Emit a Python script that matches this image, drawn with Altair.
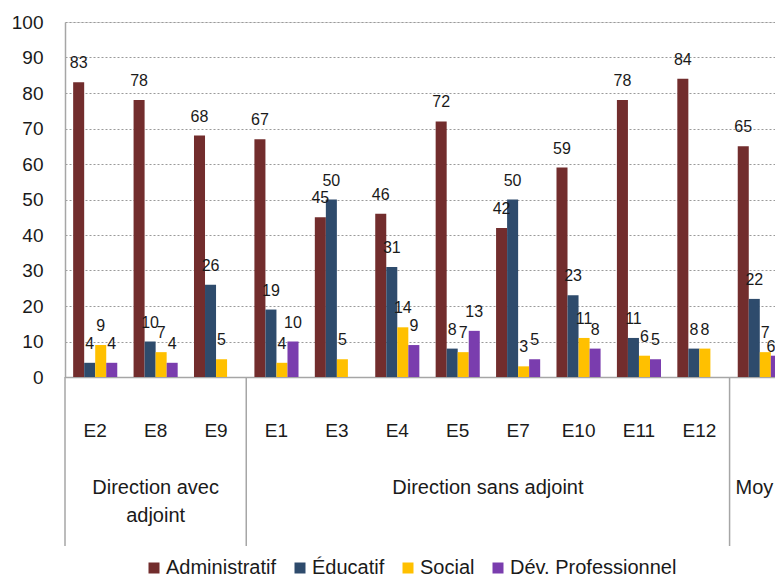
import altair as alt
import pandas as pd

categories = ["E2", "E8", "E9", "E1", "E3", "E4", "E5", "E7", "E10", "E11", "E12", "Moyenne"]
series = ["Administratif", "Éducatif", "Social", "Dév. Professionnel"]
administratif = [83, 78, 68, 67, 45, 46, 72, 42, 59, 78, 84, 65]
educatif = [4, 10, 26, 19, 50, 31, 8, 50, 23, 11, 8, 22]
social = [9, 7, 5, 4, 5, 14, 7, 3, 11, 6, 8, 7]
dev_pro = [4, 4, 0, 10, 0, 9, 13, 5, 8, 5, 0, 6]
colors = ["#722D2D", "#2E4B6C", "#FFC000", "#7A3DAE"]

y_ticks = [0, 10, 20, 30, 40, 50, 60, 70, 80, 90, 100]
separator_at = ["E2", "E1", "Moyenne"]

FONT = "Liberation Sans"
TXT = "#1a1a1a"
GRAY = "#a6a6a6"
RANGE = 725
P_IN = 0.27
P_OUT = 0.135
EDGE_PX = -(RANGE / len(categories)) * P_OUT

rows = []
for s, vals in zip(series, [administratif, educatif, social, dev_pro]):
    for c, v in zip(categories, vals):
        if v > 0:
            rows.append({"cat": c, "series": s, "value": v})
df = pd.DataFrame(rows)

# the last label sits at the very right edge of the canvas; keep it inside
edge_mask = (df["cat"] == categories[-1]) & (df["series"] == series[-1])
df_main = df[~edge_mask]
df_edge = df[edge_mask]

xscale = alt.Scale(domain=categories, range=[0, RANGE], paddingInner=P_IN, paddingOuter=P_OUT)
xaxis = alt.Axis(title=None, ticks=False, labelPadding=44, labelFontSize=19, labelFont=FONT,
                 labelColor=TXT, labelAngle=0, domainColor=GRAY, domainWidth=1.5, grid=False,
                 labelExpr="datum.value == 'Moyenne' ? '' : datum.value")
yscale = alt.Scale(domain=[0, 100], nice=False)
yaxis = alt.Axis(title=None, values=y_ticks, ticks=False, labelPadding=22,
                 labelFontSize=19, labelFont=FONT, labelColor=TXT, grid=True,
                 gridColor="#9a9a9a", gridDash=[2, 2], gridWidth=1,
                 domainColor=GRAY, domainWidth=1.5)
xoff = alt.XOffset("series:N", scale=alt.Scale(domain=series, paddingInner=0, paddingOuter=0))

bars = alt.Chart(df).mark_bar().encode(
    x=alt.X("cat:N", scale=xscale, axis=xaxis, sort=categories),
    xOffset=xoff,
    y=alt.Y("value:Q", scale=yscale, axis=yaxis),
    color=alt.Color("series:N", scale=alt.Scale(domain=series, range=colors),
                    legend=alt.Legend(orient="none", legendX=79, legendY=536,
                                      direction="horizontal", title=None,
                                      symbolType="square", symbolSize=121,
                                      symbolStrokeWidth=0, labelFontSize=20,
                                      labelFont=FONT, labelColor=TXT,
                                      columnPadding=13, labelOffset=2,
                                      labelLimit=400, padding=0)),
)

labels = alt.Chart(df_main).mark_text(baseline="alphabetic", dy=-14, fontSize=16, font=FONT,
                                      color=TXT).encode(
    x=alt.X("cat:N", scale=xscale, axis=xaxis, sort=categories),
    xOffset=xoff,
    y=alt.Y("value:Q", scale=yscale, axis=yaxis),
    text="value:Q",
)

labels_edge = alt.Chart(df_edge).mark_text(baseline="alphabetic", dy=-4, dx=-1, align="right",
                                           fontSize=16, font=FONT, color=TXT).encode(
    x=alt.X("cat:N", scale=xscale, axis=xaxis, sort=categories),
    xOffset=xoff,
    y=alt.Y("value:Q", scale=yscale, axis=yaxis),
    text="value:Q",
)

sep_df = pd.DataFrame({"cat": separator_at})
seps = alt.Chart(sep_df).mark_rule(color=GRAY, strokeWidth=1.5, xOffset=EDGE_PX).encode(
    x=alt.X("cat:N", scale=xscale, axis=xaxis, bandPosition=0),
    y=alt.value(355),
    y2=alt.value(524),
)

g1 = alt.Chart(pd.DataFrame({"cat": ["E8"], "label": ["Direction avec\nadjoint"]})).mark_text(
    align="center", baseline="alphabetic", fontSize=20, font=FONT, color=TXT,
    lineBreak="\n", lineHeight=28).encode(
    x=alt.X("cat:N", scale=xscale, axis=xaxis, bandPosition=0.5),
    y=alt.value(472),
    text="label:N",
)
g2 = alt.Chart(pd.DataFrame({"cat": ["E7"], "label": ["Direction sans adjoint"]})).mark_text(
    align="center", baseline="alphabetic", fontSize=20, font=FONT, color=TXT,
    dx=EDGE_PX).encode(
    x=alt.X("cat:N", scale=xscale, axis=xaxis, bandPosition=0),
    y=alt.value(472),
    text="label:N",
)
g3 = alt.Chart(pd.DataFrame({"cat": ["Moyenne"], "label": ["Moy"]})).mark_text(
    align="left", baseline="alphabetic", fontSize=20, font=FONT, color=TXT,
    dx=EDGE_PX + 6).encode(
    x=alt.X("cat:N", scale=xscale, axis=xaxis, bandPosition=0),
    y=alt.value(472),
    text="label:N",
)

chart = alt.layer(bars, labels, labels_edge, seps, g1, g2, g3).properties(
    width=710, height=355,
    autosize=alt.AutoSizeParams(type="none"),
    padding={"left": 57, "top": 14, "right": 0, "bottom": 202},
).configure_view(stroke=None).configure(background="white")

chart.save("out.html", embed_options={"renderer": "svg", "actions": False})
